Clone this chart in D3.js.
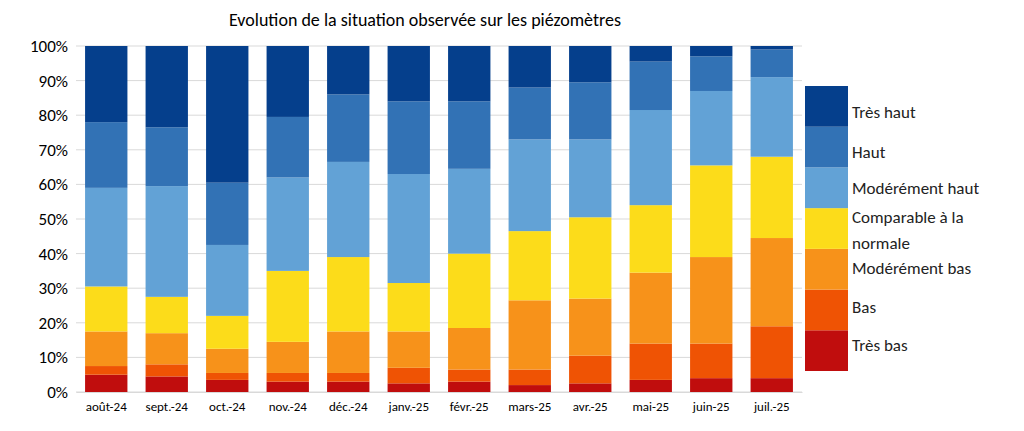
<!DOCTYPE html><html><head><meta charset="utf-8"><script src="https://cdn.jsdelivr.net/npm/d3@7"></script>
<style>body{margin:0;background:#fff}text{font-family:Calibri,Carlito,"Liberation Sans",sans-serif}</style></head><body><svg id="c" width="1024" height="431"></svg><script>
const months=["août-24","sept.-24","oct.-24","nov.-24","déc.-24","janv.-25","févr.-25","mars-25","avr.-25","mai-25","juin-25","juil.-25"];
const seriesNames=["Très bas","Bas","Modérément bas","Comparable à la normale","Modérément haut","Haut","Très haut"];
const tresBas=[5,4.5,3.5,3,3,2.5,3,2,2.5,3.5,4,4];
const bas=[2.5,3.5,2,2.5,2.5,4.5,3.5,4.5,8,10.5,10,15];
const moderementBas=[10,9,7,9,12,10.5,12,20,16.5,20.5,25,25.5];
const comparable=[13,10.5,9.5,20.5,21.5,14,21.5,20,23.5,19.5,26.5,23.5];
const moderementHaut=[28.5,32,20.5,27,27.5,31.5,24.5,26.5,22.5,27.5,21.5,23];
const haut=[19,17,18,17.5,19.5,21,19.5,15,16.5,14,10,8];
const tresHaut=[22,23.5,39.5,20.5,14,16,16,12,10.5,4.5,3,1];
const yTicks=[0,10,20,30,40,50,60,70,80,90,100];
const colors=["#c00d0d","#ef5304","#f7921a","#fcdc1a","#62a2d6","#3272b5","#053f8c"];
const all=[tresBas,bas,moderementBas,comparable,moderementHaut,haut,tresHaut];
const data=months.map((m,i)=>{const o={m};seriesNames.forEach((s,j)=>o[s]=all[j][i]);return o;});
const svg=d3.select("#c");
const x=d3.scaleBand().domain(months).range([76,802]).paddingInner(0.3).paddingOuter(0.15);
const y=d3.scaleLinear().domain([0,100]).range([392,46]);
svg.append("g").selectAll("line").data(yTicks).join("line").attr("x1",76).attr("x2",802).attr("y1",d=>y(d)).attr("y2",d=>y(d)).attr("stroke","#d9d9d9");
const stack=d3.stack().keys(seriesNames)(data);
svg.append("g").selectAll("g").data(stack).join("g").attr("fill",(d,i)=>colors[i])
 .selectAll("rect").data(d=>d).join("rect").attr("x",d=>x(d.data.m)).attr("width",x.bandwidth()).attr("y",d=>y(d[1])).attr("height",d=>y(d[0])-y(d[1]));
const ya=svg.append("g").attr("transform","translate(76,0)").call(d3.axisLeft(y).tickValues(yTicks).tickFormat(d=>d+"%").tickSize(0).tickPadding(8));
ya.select(".domain").remove();ya.selectAll("text").attr("font-size",17).attr("fill","#000");
const xa=svg.append("g").attr("transform","translate(0,392)").call(d3.axisBottom(x).tickSize(0).tickPadding(10));
xa.select(".domain").attr("stroke","#d9d9d9");xa.selectAll("text").attr("font-size",13).attr("fill","#000");
svg.append("text").attr("x",425).attr("y",26).attr("text-anchor","middle").attr("font-size",18).text("Evolution de la situation observée sur les  piézomètres");
const ly=d3.scaleBand().domain(d3.range(7)).range([371,86]);
svg.append("g").selectAll("rect").data(d3.range(7)).join("rect").attr("x",805).attr("width",43).attr("y",i=>ly(i)).attr("height",ly.bandwidth()).attr("fill",i=>colors[i]);
const labels=[["Très bas",345],["Bas",307],["Modérément bas",268],["Comparable à la",217],["normale",243],["Modérément haut",188],["Haut",152],["Très haut",112]];
svg.append("g").selectAll("text").data(labels).join("text").attr("x",852).attr("y",d=>d[1]+6).attr("font-size",17).attr("fill","#222").text(d=>d[0]);
</script></body></html>
